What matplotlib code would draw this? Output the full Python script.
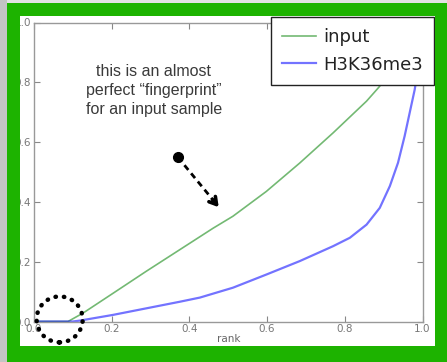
import numpy as np
import matplotlib.pyplot as plt
from matplotlib.patches import Rectangle, Ellipse

# values
rank_input = [0.0, 0.0875, 0.126, 0.203, 0.289, 0.375, 0.461, 0.512, 0.598,
              0.684, 0.770, 0.856, 0.886, 0.94, 1.0]
frac_input = [0.0, 0.0, 0.028, 0.094, 0.168, 0.240, 0.312, 0.352, 0.435,
              0.53, 0.631, 0.737, 0.781, 0.865, 1.0]

rank_chip = [0.0, 0.10, 0.118, 0.203, 0.289, 0.375, 0.427, 0.512, 0.598, 0.684, 0.770,
             0.813, 0.856, 0.890, 0.916, 0.937, 0.954, 0.967, 0.980, 0.99, 1.0]
frac_chip = [0.0, 0.0, 0.003, 0.022, 0.044, 0.066, 0.080, 0.113, 0.157, 0.202, 0.252,
             0.28, 0.324, 0.38, 0.453, 0.531, 0.62, 0.698, 0.776, 0.86, 1.0]

ticks = [0.0, 0.2, 0.4, 0.6, 0.8, 1.0]

W, H = 447, 362
fig = plt.figure(figsize=(W / 100, H / 100), dpi=100)
fig.patch.set_facecolor('white')

ax = fig.add_axes([34.0 / W, 1 - 321.5 / H, 388.5 / W, 299 / H])
ax.plot(rank_input, frac_input, color='green', alpha=0.55, lw=1.2, label='input')
ax.plot(rank_chip, frac_chip, color='blue', alpha=0.55, lw=1.6, label='H3K36me3')

ax.set_xlim(0, 1)
ax.set_ylim(0, 1)
ax.set_xticks(ticks)
ax.set_yticks(ticks)
ax.tick_params(direction='in', top=True, right=True, length=4, width=0.8,
               colors='#888888', labelsize=7.5, labelcolor='#777777', pad=2)
for s in ax.spines.values():
    s.set_color('#999999')
    s.set_linewidth(1.0)
ax.set_xlabel('rank', fontsize=7.5, color='#666666', labelpad=0)

leg = ax.legend(loc='upper right', bbox_to_anchor=(434 / W, 1 - 17 / H),
                bbox_transform=fig.transFigure, borderaxespad=0, fontsize=13,
                fancybox=False, framealpha=1, edgecolor='#222222',
                labelspacing=0.55, borderpad=0.6, handlelength=1.9, handletextpad=0.4)
leg.get_frame().set_linewidth(1.0)
for t in leg.get_texts():
    t.set_color('#222222')

# hand-written note
ax.text(0.308, 0.773, 'this is an almost\nperfect \u201cfingerprint\u201d\nfor an input sample',
        ha='center', va='center', fontsize=11.5, color='#3a3a3a', linespacing=1.35,
        family=['Liberation Sans', 'DejaVu Sans'])

# dashed pointer with dot and open head
ax.plot([0.37, 0.468], [0.55, 0.395], ls=(0, (2.2, 1.6)), color='black', lw=2)
ax.plot([0.37], [0.55], 'o', color='black', ms=7)
ax.annotate('', xy=(0.48, 0.375), xytext=(0.455, 0.415),
            arrowprops=dict(arrowstyle='->,head_length=0.5,head_width=0.3',
                            color='black', lw=2.6))

# dotted circle around the origin
ax.add_patch(Ellipse((0.066, 0.007), 46 / 388.5, 46 / 299, fill=False,
                     ls=(0, (0.1, 1.8)), lw=3.2, color='black',
                     capstyle='round', clip_on=False, zorder=6))

# green slide frame on top
def frame(x0, y0, x1, y1, c):
    fig.add_artist(Rectangle((x0 / W, 1 - y1 / H), (x1 - x0) / W, (y1 - y0) / H,
                             transform=fig.transFigure, color=c, lw=0, zorder=10))

green = '#1db300'
frame(0, 0, 447, 3, '#e2e2e2')
frame(0, 0, 7, 362, '#c4c4c4')
frame(7, 3, 447, 16, green)
frame(7, 3, 20, 362, green)
frame(435, 3, 447, 362, green)
frame(7, 346, 447, 362, green)

fig.savefig('out.png', dpi=100)
